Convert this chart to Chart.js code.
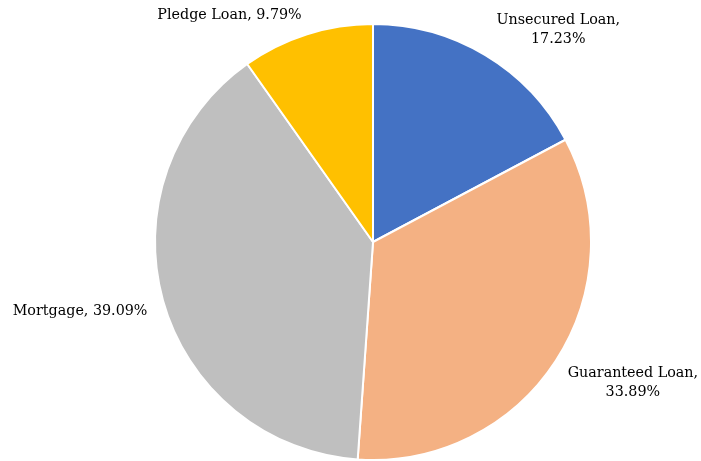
<!DOCTYPE html>
<html>
<head>
<meta charset="utf-8">
<script src="https://cdn.jsdelivr.net/npm/chart.js@4"></script>
<style>
  html, body { margin: 0; padding: 0; background: #fff; }
  #wrap { width: 701px; height: 461px; }
</style>
</head>
<body>
<div id="wrap"><canvas id="pie"></canvas></div>
<script>
const CATEGORIES = ['Unsecured Loan', 'Guaranteed Loan', 'Mortgage', 'Pledge Loan'];
const SHARES = [17.23, 33.89, 39.09, 9.79];
const COLORS = ['#4472C4', '#F4B183', '#BFBFBF', '#FFC000'];

const FONT = "'DejaVu Serif', 'Liberation Serif', serif";

// label placement: distance beyond radius, angle tweak (deg), nudge, two lines?
const LABEL_POS = [
    { dist: 62, rot: 8,   dx: 9,   dy: 5,  split: true  },
    { dist: 66, rot: -3,  dx: 14,  dy: -1, split: true  },
    { dist: 70, rot: 2,   dx: -13, dy: 2,  split: false },
    { dist: 50, rot: -15, dx: 1,   dy: -1, split: false },
];

const outsideLabels = {
    id: 'outsideLabels',
    afterDatasetsDraw(chart) {
        const { ctx } = chart;
        const meta = chart.getDatasetMeta(0);
        ctx.save();
        ctx.fillStyle = '#000';
        ctx.font = `14.3px ${FONT}`;
        ctx.textAlign = 'center';
        ctx.textBaseline = 'middle';
        meta.data.forEach((arc, i) => {
            const p = LABEL_POS[i];
            const mid = (arc.startAngle + arc.endAngle) / 2 + p.rot * Math.PI / 180;
            const r = arc.outerRadius + p.dist;
            const x = arc.x + Math.cos(mid) * r + p.dx;
            const y = arc.y + Math.sin(mid) * r + p.dy;
            const value = SHARES[i].toFixed(2) + '%';
            if (p.split) {
                ctx.fillText(CATEGORIES[i] + ',', x, y - 9.5);
                ctx.fillText(value, x, y + 9.5);
            } else {
                ctx.fillText(CATEGORIES[i] + ', ' + value, x, y);
            }
        });
        ctx.restore();
    }
};

new Chart(document.getElementById('pie').getContext('2d'), {
    type: 'pie',
    plugins: [outsideLabels],
    data: {
        labels: CATEGORIES,
        datasets: [{
            data: SHARES,
            backgroundColor: COLORS,
            borderColor: '#ffffff',
            borderWidth: 2,
        }]
    },
    options: {
        responsive: true,
        maintainAspectRatio: false,
        animation: false,
        layout: { padding: { top: 23, bottom: 0, left: 153, right: 108 } },
        plugins: {
            legend: { display: false },
            tooltip: { enabled: false }
        }
    }
});
</script>
</body>
</html>
